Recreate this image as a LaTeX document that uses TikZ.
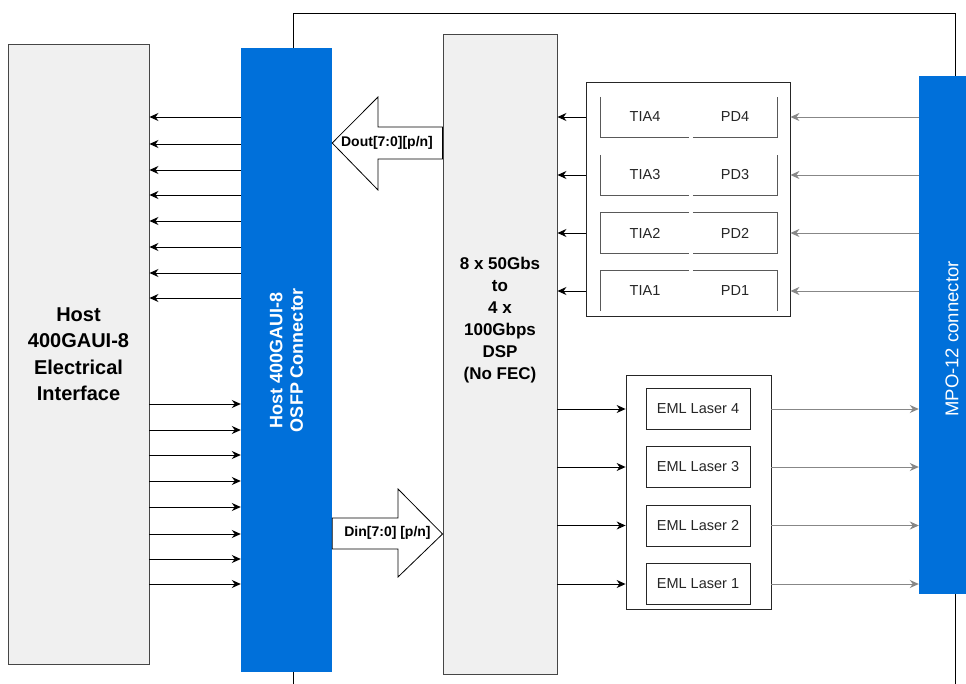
\documentclass[tikz,border=0pt]{standalone}
\usepackage{fontspec}
\setmainfont{Liberation Sans}
\usetikzlibrary{arrows.meta}
\definecolor{boxgray}{RGB}{240,240,240}
\definecolor{edgegray}{RGB}{70,70,70}
\definecolor{osfpblue}{RGB}{0,112,218}
\definecolor{fibergray}{RGB}{135,135,135}
\tikzset{
  block/.style = {draw=edgegray, fill=boxgray, line width=0.9pt, align=center,
    inner sep=0pt},% grey box
  bluebar/.style = {fill=osfpblue, inner sep=0pt},% blue connector
  bluetext/.style = {text=white, align=center, inner sep=0pt, rotate=90},
  optobox/.style = {draw=black!85, fill=white, line width=0.8pt, inner sep=0pt},
  cell/.style = {inner sep=0pt, minimum height=40pt, text=black!85,
    font=\fontsize{14.5}{16}\selectfont},% TIA / PD
  celledge/.style = {draw=black!65, line width=0.8pt},
  laser/.style = {draw=black!85, line width=0.8pt, inner sep=0pt, text=black!85,
    minimum width=104pt, minimum height=41pt, font=\fontsize{14.5}{16}\selectfont},
  lane/.style = {->, line width=0.9pt},
  fiber/.style = {->, draw=fibergray, line width=0.9pt},
  buslabel/.style = {inner sep=0pt, font=\fontsize{14}{16}\selectfont\bfseries}
}
\begin{document}
\begin{tikzpicture}[x=1pt, y=-1pt, >={Stealth[length=9pt,width=8pt]}]
\useasboundingbox (0,0) rectangle (966,684);
% module outline
\draw[line width=0.8pt] (293,684) -- (293,13) -- (955,13) -- (955,684);

\node[block, minimum width=141pt, minimum height=620pt,
  font=\fontsize{20}{26.5}\selectfont\bfseries] (host) at (78.5,354)
  {Host\\400GAUI-8\\Electrical\\Interface};
\node[bluebar, minimum width=91pt, minimum height=624pt] (conn) at (286.5,360) {};
\node[bluetext, font=\fontsize{18}{20.5}\selectfont\bfseries] (conntxt) at (conn.center)
  {Host 400GAUI-8\\OSFP Connector};
\node[block, minimum width=114pt, minimum height=640pt] (dsp) at (500,354) {};
\node[align=center, inner sep=0pt, font=\fontsize{17}{22}\selectfont\bfseries]
  (dsptxt) at (500,320) {8 x 50Gbs\\to\\4 x\\100Gbps\\DSP\\(No FEC)};
\node[bluebar, minimum width=47pt, minimum height=518pt] (mpo) at (942.5,335) {};
\node[bluetext, font=\fontsize{18.5}{20}\selectfont] (mpotxt) at (952,339) {MPO-12 connector};

% receive side
\node[optobox, minimum width=204pt, minimum height=234pt] (rx) at (688,199) {};
\node[cell, minimum width=88pt] (tia4) at (645,117) {TIA4};
\node[cell, minimum width=84pt] (pd4) at (735,117) {PD4};
\node[cell, minimum width=88pt] (tia3) at (645,175) {TIA3};
\node[cell, minimum width=84pt] (pd3) at (735,175) {PD3};
\node[cell, minimum width=88pt] (tia2) at (645,233) {TIA2};
\node[cell, minimum width=84pt] (pd2) at (735,233) {PD2};
\node[cell, minimum width=88pt] (tia1) at (645,291) {TIA1};
\node[cell, minimum width=84pt] (pd1) at (735,291) {PD1};
\draw[celledge] (tia4.north west) -- (tia4.south west) -- (tia4.south east);
\draw[celledge] (pd4.south west) -- (pd4.south east) -- (pd4.north east);
\draw[celledge] (tia3.north west) -- (tia3.south west) -- (tia3.south east);
\draw[celledge] (pd3.south west) -- (pd3.south east) -- (pd3.north east);
\draw[celledge] (tia2.north east) -- (tia2.north west) -- (tia2.south west) -- (tia2.south east);
\draw[celledge] (pd2.north west) -- (pd2.north east) -- (pd2.south east) -- (pd2.south west);
\draw[celledge] (tia1.south west) -- (tia1.north west) -- (tia1.north east);
\draw[celledge] (pd1.north west) -- (pd1.north east) -- (pd1.south east);

% transmit side
\node[optobox, minimum width=145pt, minimum height=234pt] (tx) at (698.5,492) {};
\node[laser] (eml4) at (698,409) {EML Laser 4};
\node[laser] (eml3) at (698,467) {EML Laser 3};
\node[laser] (eml2) at (698,525.5) {EML Laser 2};
\node[laser] (eml1) at (698,584) {EML Laser 1};

% host lanes
\foreach \y in {117,144,170,195,221,247,273,298}
  \draw[lane] (conn.west |- 0,\y) -- (host.east |- 0,\y);
\foreach \y in {404,430,455,481,507,534,559,584}
  \draw[lane] (host.east |- 0,\y) -- (conn.west |- 0,\y);

% optical lanes
\foreach \n in {1,...,4} {
  \draw[lane] (rx.west |- tia\n) -- (dsp.east |- tia\n);
  \draw[fiber] (mpo.west |- pd\n) -- (rx.east |- pd\n);
  \draw[lane] (dsp.east |- eml\n) -- (tx.west |- eml\n);
  \draw[fiber] (tx.east |- eml\n) -- (mpo.west |- eml\n);
}

% bus arrows
\draw[line width=0.8pt, fill=white] (dsp.west |- 0,127) -- (378,127) -- (378,97)
  -- (conn.east |- 0,143) -- (378,190) -- (378,159) -- (dsp.west |- 0,159) -- cycle;
\node[buslabel] (dout) at (387,143) {Dout[7:0][p/n]};
\draw[line width=0.8pt, fill=white] (conn.east |- 0,518) -- (398,518) -- (398,489)
  -- (dsp.west |- 0,534) -- (398,577) -- (398,549) -- (conn.east |- 0,549) -- cycle;
\node[buslabel] (din) at (387.5,533) {Din[7:0] [p/n]};
\end{tikzpicture}
\end{document}
